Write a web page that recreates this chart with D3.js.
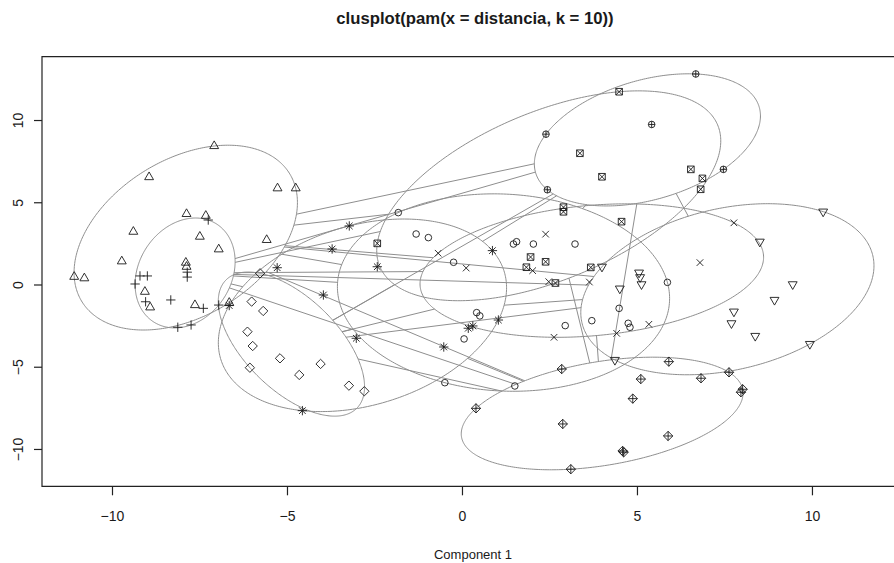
<!DOCTYPE html>
<html>
<head>
<meta charset="utf-8">
<script src="https://cdn.jsdelivr.net/npm/d3@7"></script>
<style>
body { margin: 0; background: #fff; }
text { font-family: "Liberation Sans", Arial, sans-serif; fill: #1a1a1a; }
</style>
</head>
<body>
<svg width="894" height="563"></svg>
<script>
const titleText = "clusplot(pam(x = distancia, k = 10))";
const xLabel = "Component 1";
const xTicks = [-10, -5, 0, 5, 10];
const yTicks = [-10, -5, 0, 5, 10];

// points of each cluster (component 1, component 2)
// cluster i is drawn with R symbol pch = i
const cl1 = [[-1.82, 4.37], [-1.31, 3.07], [-0.96, 2.85], [-0.24, 1.35], [1.47, 2.46], [1.56, 2.6],
  [2.04, 2.46], [3.23, 2.46], [0.42, -1.71], [0.51, -1.91], [0.06, -3.31], [2.95, -2.5], [3.71, -2.2],
  [-0.49, -5.97], [1.51, -6.17], [5.87, 0.13], [4.49, -1.45], [4.75, -2.36], [4.8, -2.6]];
const cl2 = [[-7.08, 8.42], [-8.94, 6.53], [-5.27, 5.85], [-4.75, 5.85], [-7.87, 4.29], [-7.32, 4.18],
  [-9.39, 3.21], [-7.49, 2.91], [-5.58, 2.71], [-6.95, 2.14], [-9.72, 1.41], [-7.89, 1.33], [-7.87, 1.08],
  [-11.08, 0.47], [-10.79, 0.38], [-9.06, -0.44], [-8.91, -1.39], [-7.63, -1.25], [-6.65, -1.11]];
const cl3 = [[-7.25, 3.92], [-9.2, 0.52], [-8.99, 0.52], [-9.34, 0.03], [-7.85, 0.75], [-7.85, 0.45],
  [-9.04, -1.05], [-8.32, -0.94], [-8.12, -2.6], [-7.74, -2.46], [-7.39, -1.45], [-6.95, -1.25]];
const cl4 = [[-0.68, 1.9], [0.12, 1.0], [2.39, 3.06], [2.02, 0.84], [2.48, 0.17], [3.64, 0.15],
  [2.63, -3.21], [6.8, 1.33], [7.77, 3.75], [5.34, -2.42], [4.42, -2.97]];
const cl5 = [[-5.77, 0.68], [-6.01, -1.04], [-5.68, -1.61], [-6.13, -2.87], [-5.98, -3.74], [-5.2, -4.49],
  [-6.06, -5.06], [-4.65, -5.5], [-4.04, -4.83], [-3.23, -6.15], [-2.79, -6.49]];
const cl6 = [[4.0, 1.08], [5.06, 0.72], [5.09, 0.44], [5.13, 0.01], [4.51, -0.25], [4.37, -4.59],
  [8.51, 2.6], [9.45, 0.01], [8.93, -0.94], [7.77, -1.65], [7.7, -2.36], [8.38, -3.13], [9.94, -3.62], [10.32, 4.43]];
const cl7 = [[4.49, 11.72], [3.37, 7.98], [4.0, 6.55], [6.54, 7.0], [6.87, 6.45], [6.82, 5.79], [2.9, 4.7],
  [2.9, 4.42], [4.56, 3.82], [1.96, 1.67], [2.39, 1.38], [1.84, 1.05], [3.68, 1.04], [2.67, 0.09], [-2.42, 2.5]];
const cl8 = [[-3.22, 3.56], [-3.71, 2.16], [-2.42, 1.08], [-5.28, 1.02], [-3.96, -0.64], [-6.65, -1.28],
  [-3.02, -3.27], [-4.56, -7.67], [-0.52, -3.8], [0.18, -2.66], [0.31, -2.52], [0.87, 2.06], [1.04, -2.16]];
const cl9 = [[0.4, -7.53], [2.85, -5.14], [2.88, -8.48], [3.11, -11.23], [4.59, -10.12], [4.62, -10.2],
  [4.88, -6.94], [5.11, -5.75], [5.89, -9.21], [5.91, -4.69], [6.83, -5.7], [7.63, -5.34], [8.02, -6.37], [7.97, -6.55]];
const cl10 = [[2.4, 9.14], [2.44, 5.76], [5.42, 9.73], [6.68, 12.8], [7.47, 7.0]];

const clusters = [cl1, cl2, cl3, cl4, cl5, cl6, cl7, cl8, cl9, cl10];

const svg = d3.select("svg");

const x = d3.scaleLinear().domain([-12, 12.63]).range([42, 904]);
const y = d3.scaleLinear().domain([-12.27, 13.85]).range([486.3, 56.7]);

const inkCol = "#1a1a1a", greyCol = "#8e8e8e";

// ----------- minimum volume ellipse (like ellipsoidhull) -----------
function inv3(m) {
  const [a, b, c] = m[0], [d, e, f] = m[1], [g, h, i] = m[2];
  const A = e * i - f * h, B = -(d * i - f * g), C = d * h - e * g;
  const det = a * A + b * B + c * C;
  return [
    [A / det, -(b * i - c * h) / det, (b * f - c * e) / det],
    [B / det, (a * i - c * g) / det, -(a * f - c * d) / det],
    [C / det, -(a * h - b * g) / det, (a * e - b * d) / det]
  ];
}

function mvee(P) {
  const n = P.length, dim = 2;
  let u = new Array(n).fill(1 / n);
  let err = 1, it = 0;
  while (err > 1e-7 && it < 100000) {
    const X = [[0, 0, 0], [0, 0, 0], [0, 0, 0]];
    P.forEach((p, k) => {
      const q = [p[0], p[1], 1];
      for (let a = 0; a < 3; a++) for (let b = 0; b < 3; b++) X[a][b] += u[k] * q[a] * q[b];
    });
    const Xi = inv3(X);
    let maxM = -1, j = 0;
    P.forEach((p, k) => {
      const q = [p[0], p[1], 1];
      let m = 0;
      for (let a = 0; a < 3; a++) for (let b = 0; b < 3; b++) m += q[a] * Xi[a][b] * q[b];
      if (m > maxM) { maxM = m; j = k; }
    });
    const step = (maxM - dim - 1) / ((dim + 1) * (maxM - 1));
    const nu = u.map(v => v * (1 - step));
    nu[j] += step;
    err = Math.sqrt(d3.sum(nu, (v, k) => (v - u[k]) ** 2));
    u = nu;
    it++;
  }
  const cx = d3.sum(P, (p, k) => u[k] * p[0]);
  const cy = d3.sum(P, (p, k) => u[k] * p[1]);
  const sxx = d3.sum(P, (p, k) => u[k] * p[0] * p[0]) - cx * cx;
  const sxy = d3.sum(P, (p, k) => u[k] * p[0] * p[1]) - cx * cy;
  const syy = d3.sum(P, (p, k) => u[k] * p[1] * p[1]) - cy * cy;
  // shape matrix E: ellipse = c + chol(E) * unit circle
  const E = [[dim * sxx, dim * sxy], [dim * sxy, dim * syy]];
  const det = E[0][0] * E[1][1] - E[0][1] * E[1][0];
  const Einv = [[E[1][1] / det, -E[0][1] / det], [-E[1][0] / det, E[0][0] / det]];
  return { c: [cx, cy], E, Einv };
}

const ellipses = clusters.map(mvee);

function ellipsePoints(el) {
  const l11 = Math.sqrt(el.E[0][0]);
  const l21 = el.E[1][0] / l11;
  const l22 = Math.sqrt(el.E[1][1] - l21 * l21);
  return d3.range(0, 361).map(t => {
    const a = t * Math.PI / 180;
    return [el.c[0] + l11 * Math.cos(a), el.c[1] + l21 * Math.cos(a) + l22 * Math.sin(a)];
  });
}

// distance lines between ellipse boundaries (lines = 2)
const distLines = [];
for (let i = 0; i < ellipses.length - 1; i++) {
  for (let j = i + 1; j < ellipses.length; j++) {
    const e1 = ellipses[i], e2 = ellipses[j];
    const dx = e2.c[0] - e1.c[0], dy = e2.c[1] - e1.c[1];
    const D = Math.hypot(dx, dy);
    const ux = dx / D, uy = dy / D;
    const q = (el) => ux * ux * el.Einv[0][0] + 2 * ux * uy * el.Einv[0][1] + uy * uy * el.Einv[1][1];
    const t1 = 1 / Math.sqrt(q(e1)), t2 = 1 / Math.sqrt(q(e2));
    if (t1 + t2 < D) {
      distLines.push([[e1.c[0] + t1 * ux, e1.c[1] + t1 * uy], [e2.c[0] - t2 * ux, e2.c[1] - t2 * uy]]);
    }
  }
}

// ----------- frame -----------
svg.append("clipPath").attr("id", "plotArea")
  .append("rect").attr("x", 42).attr("y", 56.7).attr("width", 862).attr("height", 429.6);

const plot = svg.append("g").attr("clip-path", "url(#plotArea)");

const line = d3.line().x(d => x(d[0])).y(d => y(d[1]));

plot.selectAll("path.ellipse")
  .data(ellipses)
  .enter()
  .append("path")
  .attr("class", "ellipse")
  .attr("d", d => line(ellipsePoints(d)))
  .attr("fill", "none")
  .attr("stroke", greyCol)
  .attr("stroke-width", 1);

plot.selectAll("path.distline")
  .data(distLines)
  .enter()
  .append("path")
  .attr("class", "distline")
  .attr("d", line)
  .attr("fill", "none")
  .attr("stroke", greyCol)
  .attr("stroke-width", 1);

// R plotting symbols
function pchPath(pch, xc) {
  const p = d3.path();
  const s2 = Math.SQRT2 * xc;
  const seg = (x0, y0, x1, y1) => { p.moveTo(x0, y0); p.lineTo(x1, y1); };
  const tri = (sign) => {
    const r = 1.5551 * xc, w = 1.3468 * xc, h = 0.7776 * xc;
    p.moveTo(0, -sign * r); p.lineTo(w, sign * h); p.lineTo(-w, sign * h); p.closePath();
  };
  switch (pch) {
    case 1: p.arc(0, 0, xc, 0, 2 * Math.PI); break;
    case 2: tri(1); break;
    case 3: seg(-s2, 0, s2, 0); seg(0, -s2, 0, s2); break;
    case 4: seg(-xc, -xc, xc, xc); seg(-xc, xc, xc, -xc); break;
    case 5: p.moveTo(-s2, 0); p.lineTo(0, -s2); p.lineTo(s2, 0); p.lineTo(0, s2); p.closePath(); break;
    case 6: tri(-1); break;
    case 7: p.rect(-xc, -xc, 2 * xc, 2 * xc); seg(-xc, -xc, xc, xc); seg(-xc, xc, xc, -xc); break;
    case 8: seg(-xc, -xc, xc, xc); seg(-xc, xc, xc, -xc); seg(-s2, 0, s2, 0); seg(0, -s2, 0, s2); break;
    case 9: seg(-s2, 0, s2, 0); seg(0, -s2, 0, s2);
      p.moveTo(-s2, 0); p.lineTo(0, -s2); p.lineTo(s2, 0); p.lineTo(0, s2); p.closePath(); break;
    case 10: p.moveTo(xc, 0); p.arc(0, 0, xc, 0, 2 * Math.PI); seg(-xc, 0, xc, 0); seg(0, -xc, 0, xc); break;
  }
  return p.toString();
}

const pointData = clusters.flatMap((cl, i) => cl.map(d => ({ x: d[0], y: d[1], pch: i + 1 })));

plot.selectAll("path.pt")
  .data(pointData)
  .enter()
  .append("path")
  .attr("class", "pt")
  .attr("transform", d => `translate(${x(d.x)},${y(d.y)})`)
  .attr("d", d => pchPath(d.pch, 3.3))
  .attr("fill", "none")
  .attr("stroke", inkCol)
  .attr("stroke-width", 0.9);

// box
svg.append("path")
  .attr("d", "M904,56.7H42V486.3H904")
  .attr("fill", "none").attr("stroke", "#222").attr("stroke-width", 1.2);

// axes
const xAxis = d3.axisBottom(x).tickValues(xTicks).tickSize(9).tickPadding(16).tickFormat(d3.format("d"));
const gx = svg.append("g").attr("transform", "translate(0,486.3)").call(xAxis);
gx.select(".domain").remove();
gx.selectAll("line").attr("stroke", "#222").attr("stroke-width", 1.2);
gx.selectAll("text").attr("font-size", 14).attr("fill", "#1a1a1a").attr("font-family", "Liberation Sans, Arial, sans-serif");

const yAxis = d3.axisLeft(y).tickValues(yTicks).tickSize(8).tickFormat(d3.format("d"));
const gy = svg.append("g").attr("transform", "translate(42,0)").call(yAxis);
gy.select(".domain").remove();
gy.selectAll("line").attr("stroke", "#222").attr("stroke-width", 1.2);
gy.selectAll("text")
  .attr("font-size", 14).attr("fill", "#1a1a1a").attr("font-family", "Liberation Sans, Arial, sans-serif")
  .attr("x", null).attr("dy", null)
  .attr("text-anchor", "middle")
  .attr("transform", "translate(-19,0) rotate(-90)")
  .attr("y", 0);

// titles
svg.append("text")
  .attr("x", 475).attr("y", 24)
  .attr("text-anchor", "middle")
  .attr("font-size", 16.7).attr("font-weight", "bold")
  .text(titleText);

svg.append("text")
  .attr("x", 473).attr("y", 559)
  .attr("text-anchor", "middle")
  .attr("font-size", 13)
  .text(xLabel);
</script>
</body>
</html>
